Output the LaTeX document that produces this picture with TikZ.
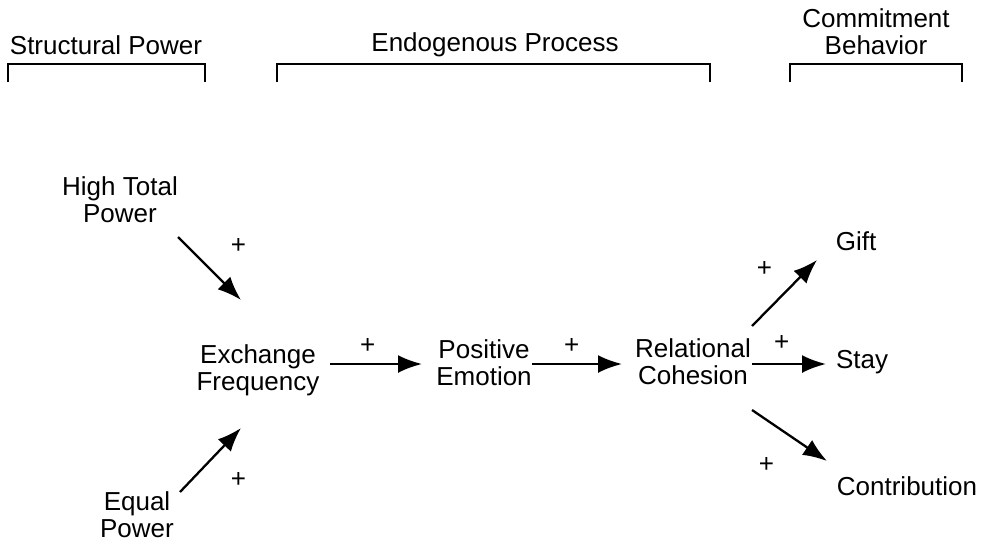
\documentclass[tikz,border=0pt]{standalone}
\usepackage{fontspec}
\setmainfont{Liberation Sans}
\usepackage{tikz}
\usetikzlibrary{arrows.meta,%
                positioning}

\begin{document}
\begin{tikzpicture} [x=1pt, y=-1pt, every text node part/.style={align=center}]
        \tikzset{
          lbl/.style={font=\fontsize{26}{27}\selectfont, inner sep=0pt},
          arr/.style={line width=2.3pt, -{Latex[length=24pt,width=18pt]}},
          brk/.style={line width=1.2pt},
        }
        \useasboundingbox (0,0) rectangle (984,546);
        % headings
        \node [lbl] (spow) at (106,45) {Structural Power};
        \node [lbl] (endo) at (495,45) {Endogenous Process};
        \node [lbl] (comm) at (876,32) {Commitment \\ Behavior};
        \draw [brk] (8,82) -- (8,64) -- (205,64) -- (205,82);
        \draw [brk] (277,82) -- (277,64) -- (710,64) -- (710,82);
        \draw [brk] (790,82) -- (790,64) -- (962,64) -- (962,82);
        % variables
        \node [lbl] (htp) at (120,200) {High Total \\ Power};
        \node [lbl] (eqp) at (137,515) {Equal \\ Power};
        \node [lbl] (exf) at (258,370) {Exchange \\ Frequency};
        \node [lbl] (pose) at (484,363) {Positive \\ Emotion};
        \node [lbl] (relc) at (693,362) {Relational \\ Cohesion};
        \node [lbl] (gift) at (856,241) {Gift};
        \node [lbl] (stay) at (862,362) {Stay};
        \node [lbl] (cont) at (907,486) {Contribution};
        % arrow ends
        \coordinate (htpout) at (178,237);
        \coordinate (exfin1) at (241,300);
        \coordinate (eqpout) at (180,492);
        \coordinate (exfin2) at (241,428);
        \coordinate (exfout) at (330,364);
        \coordinate (posein) at (422,364);
        \coordinate (poseout) at (532,364);
        \coordinate (relcin) at (622,364);
        \coordinate (relcout1) at (752,326);
        \coordinate (giftin) at (817,260);
        \coordinate (relcout2) at (752,364);
        \coordinate (stayin) at (826,364);
        \coordinate (relcout3) at (752,410);
        \coordinate (contin) at (827,461);
        % 
        \draw [arr] (htpout) -- (exfin1) node [lbl, pos=0.5, xshift=29pt, yshift=23pt] (p1) {+};
        \draw [arr] (eqpout) -- (exfin2) node [lbl, pos=0.5, xshift=28pt, yshift=-20pt] (p2) {+};
        \draw [arr] (exfout) -- (posein) node [lbl, pos=0.41, yshift=18pt] (p3) {+};
        \draw [arr] (poseout) -- (relcin) node [lbl, pos=0.44, yshift=18pt] (p4) {+};
        \draw [arr] (relcout1) -- (giftin) node [lbl, pos=0.5, xshift=-20pt, yshift=24pt] (p5) {+};
        \draw [arr] (relcout2) -- (stayin) node [lbl, pos=0.4, yshift=21pt] (p6) {+};
        \draw [arr] (relcout3) -- (contin) node [lbl, pos=0.5, xshift=-23pt, yshift=-29pt] (p7) {+};
    \end{tikzpicture}
\end{document}
